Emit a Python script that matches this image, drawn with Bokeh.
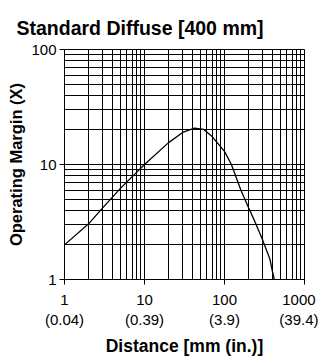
from bokeh.plotting import figure
from bokeh.embed import file_html
from bokeh.resources import INLINE

# Data
distance_mm = [1, 2, 3, 5, 10, 20, 30, 42, 55, 70, 100, 122, 160, 200, 237, 300, 340, 370, 400, 420]
margin_x = [2.0, 3.05, 4.2, 6.2, 10.0, 15.5, 19.0, 20.7, 20.2, 17.5, 13.0, 10.0, 6.0, 4.2, 3.25, 2.2, 1.75, 1.5, 1.15, 1.0]

x_ticks = [1, 10, 100, 1000]
x_tick_labels = ["1\n(0.04)", "10\n(0.39)", "100\n(3.9)", "1000\n(39.4)"]
y_ticks = [1, 10, 100]
y_tick_labels = ["1", "10", "100"]

FONT = "'Liberation Sans Narrow', 'Arial Narrow', 'Liberation Sans', sans-serif"

p = figure(
    x_axis_type="log", y_axis_type="log",
    x_range=(1, 1000), y_range=(1, 100),
    frame_width=240, frame_height=230,
    min_border_left=64, min_border_right=14, min_border_top=49, min_border_bottom=72,
    output_backend="svg", toolbar_location=None,
)

p.title.text = "Standard Diffuse [400 mm]"
p.title.text_font = FONT
p.title.text_font_size = "19.5px"
p.title.text_font_style = "bold"
p.title.align = "left"
p.title.offset = -48
p.title.standoff = 22
p.title.text_color = "black"

for ax in (p.xaxis[0], p.yaxis[0]):
    ax.axis_line_color = "black"
    ax.axis_line_width = 1
    ax.major_tick_line_color = "black"
    ax.major_tick_out = 5
    ax.major_tick_in = 0
    ax.minor_tick_line_color = None
    ax.major_label_text_font = FONT
    ax.major_label_text_font_size = "15px"
    ax.major_label_text_color = "black"
    ax.axis_label_text_font = FONT
    ax.axis_label_text_font_style = "bold"
    ax.axis_label_text_color = "black"

p.xaxis.axis_label = "Distance [mm (in.)]"
p.yaxis.axis_label = "Operating Margin (X)"
p.xaxis.axis_label_text_font_size = "17.5px"
p.yaxis.axis_label_text_font_size = "16.5px"
p.xaxis.major_label_overrides = {t: l for t, l in zip(x_ticks, x_tick_labels)}
p.yaxis.major_label_overrides = {t: l for t, l in zip(y_ticks, y_tick_labels)}
p.xaxis.major_label_standoff = 6
p.yaxis.major_label_standoff = 3
p.yaxis.axis_label_standoff = 3

for g in (p.xgrid[0], p.ygrid[0]):
    g.grid_line_color = "black"
    g.grid_line_alpha = 1
    g.grid_line_width = 1
    g.minor_grid_line_color = "black"
    g.minor_grid_line_alpha = 1
    g.minor_grid_line_width = 1

p.outline_line_color = "black"
p.outline_line_alpha = 1
p.background_fill_color = "white"
p.border_fill_color = "white"

p.line(distance_mm, margin_x, line_color="black", line_width=1.3)

open("out.html", "w").write(file_html(p, INLINE))
